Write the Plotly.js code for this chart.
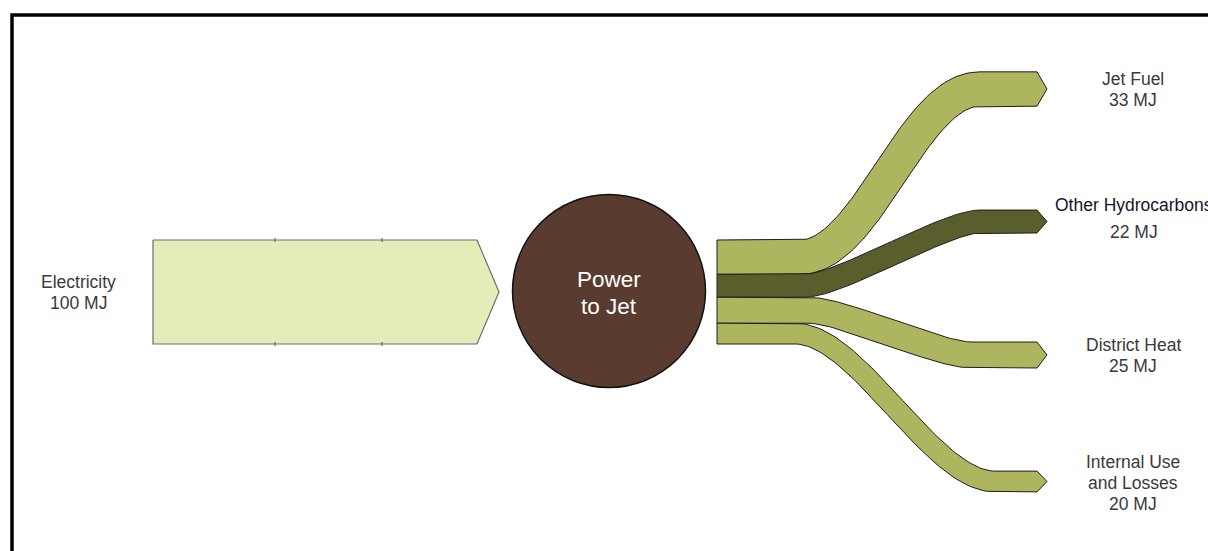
<!DOCTYPE html>
<html>
<head>
<meta charset="utf-8">
<script src="https://cdn.plot.ly/plotly-3.0.1.min.js"></script>
<style>
  html, body { margin: 0; padding: 0; background: #fff; }
  #sankey { width: 1208px; height: 551px; }
</style>
</head>
<body>
<div id="sankey"></div>
<script>
// ------------------------------------------------------------------------------
// DATA

const source_name  = 'Electricity';
const source_value = 100;
const process_name = ['Power', 'to Jet'];
const out_names    = [['Jet Fuel'], ['Other Hydrocarbons'], ['District Heat'], ['Internal Use', 'and Losses']];
const out_values   = [33, 22, 25, 20];
const unit         = 'MJ';

// ------------------------------------------------------------------------------
// LAYOUT PARAMETERS (pixels, the axes are set 1:1 to the page)

const W = 1208;
const H = 551;
const px_per_mj   = 1.04;
const mid_y       = 292;
const font_family = 'Liberation Sans, Arial, Helvetica, sans-serif';

const in_x0 = 153, in_x1 = 477, in_tip = 22;
const circ_cx = 609, circ_cy = 291, circ_r = 96.5;
const out_x0 = 717, out_x1 = 1037, out_tip = 10;
// each band bends between its own x0 and x1 (hand drawn look)
const bend_x0     = [800, 805, 808, 795];
const bend_x1     = [980, 980, 972, 995];
const bend_ctrl   = [0.38, 0.2, 0.22, 0.32];
const dest_cy     = [89, 221.5, 355, 481.5];
const label_x     = [1133, 1134, 1133, 1133];
const label_y     = [79, 205, 345, 462];
const label_gap   = [21, 27, 21, 21];

const col_in      = '#E3EDBA';
const col_out     = ['#AEB55F', '#5A5E2D', '#AEB55F', '#AEB55F'];
const col_circle  = '#5A3B30';
const col_text    = '#3a3a3a';

// ------------------------------------------------------------------------------
// UTILITIES

function bandEdges(xa, ya, xb, yb, half, k) {
    // cubic centreline, horizontal at both ends; edges offset perpendicular by +-half
    const c = k * (xb - xa);
    const P = [[xa, ya], [xa + c, ya], [xb - c, yb], [xb, yb]];
    const top = [[], []], bot = [[], []];
    const n = 60;
    for (let i = 0; i <= n; i++) {
        const t = i / n, u = 1 - t;
        const b = [u*u*u, 3*u*u*t, 3*u*t*t, t*t*t];
        const d = [-3*u*u, 3*u*u - 6*u*t, 6*u*t - 3*t*t, 3*t*t];
        let x = 0, y = 0, dx = 0, dy = 0;
        for (let j = 0; j < 4; j++) {
            x += b[j] * P[j][0]; y += b[j] * P[j][1];
            dx += d[j] * P[j][0]; dy += d[j] * P[j][1];
        }
        const len = Math.hypot(dx, dy) || 1;
        const nx = dy / len, ny = -dx / len;   // points "up" on screen
        top[0].push(x + half * nx); top[1].push(y + half * ny);
        bot[0].push(x - half * nx); bot[1].push(y - half * ny);
    }
    return [top, bot];
}

// ------------------------------------------------------------------------------
// BUILD

const traces = [];
const in_h   = source_value * px_per_mj;
const in_top = mid_y - in_h / 2;

// input arrow
traces.push({
    x: [in_x0, in_x1, in_x1 + in_tip, in_x1, in_x0, in_x0],
    y: [in_top, in_top, mid_y, in_top + in_h, in_top + in_h, in_top],
    mode: 'lines', fill: 'toself', fillcolor: col_in,
    line: {color: '#6e6e6e', width: 1.2}, hoverinfo: 'skip', showlegend: false
});
// faint segment ticks on the input arrow
traces.push({
    x: [275, 382, 275, 382],
    y: [in_top, in_top, in_top + in_h, in_top + in_h],
    mode: 'markers', marker: {symbol: 'line-ns', size: 3, line: {color: '#555', width: 1}},
    hoverinfo: 'skip', showlegend: false
});

// output bands
let ys = in_top;
out_values.forEach((v, i) => {
    const h  = v * px_per_mj;
    const yd = dest_cy[i] - h / 2;
    const [top, bot] = bandEdges(bend_x0[i], ys + h / 2, bend_x1[i], dest_cy[i], h / 2, bend_ctrl[i]);
    const xs = [out_x0].concat(top[0], [out_x1, out_x1 + out_tip, out_x1], bot[0].slice().reverse(), [out_x0, out_x0]);
    const yy = [ys].concat(top[1], [yd, dest_cy[i], yd + h], bot[1].slice().reverse(), [ys + h, ys]);
    traces.push({
        x: xs, y: yy, mode: 'lines', fill: 'toself', fillcolor: col_out[i],
        line: {color: '#1e1e1e', width: 1}, hoverinfo: 'skip', showlegend: false
    });
    ys += h;
});

const annotations = [];
function addText(txt, x, y, size, color) {
    annotations.push({
        text: txt, x: x, y: y, xref: 'x', yref: 'y', showarrow: false,
        xanchor: 'center', yanchor: 'middle',
        font: {family: font_family, size: size, color: color}
    });
}

addText(source_name, 78, 282, 17.5, col_text);
addText(source_value + ' ' + unit, 78, 303, 17.5, col_text);
addText(process_name[0], circ_cx, 279, 22.5, '#ffffff');
addText(process_name[1], circ_cx, 306, 22.5, '#ffffff');

out_names.forEach((lines, i) => {
    const all = lines.concat([out_values[i] + ' ' + unit]);
    all.forEach((t, k) => {
        const c = (i === 1 && k === 0) ? '#15152a' : col_text;
        addText(t, label_x[i], label_y[i] + k * label_gap[i], 17.5, c);
    });
});

const layout = {
    width: W, height: H,
    margin: {l: 0, r: 0, t: 0, b: 0},
    paper_bgcolor: '#ffffff', plot_bgcolor: '#ffffff',
    xaxis: {range: [0, W], visible: false, fixedrange: true},
    yaxis: {range: [H, 0], visible: false, fixedrange: true},
    showlegend: false,
    shapes: [
        {   // outer frame
            type: 'rect', xref: 'x', yref: 'y', x0: 12, y0: 15, x1: W + 40, y1: H + 40,
            line: {color: '#000', width: 3.5}, fillcolor: 'rgba(0,0,0,0)', layer: 'below'
        },
        {   // process node
            type: 'circle', xref: 'x', yref: 'y',
            x0: circ_cx - circ_r, x1: circ_cx + circ_r, y0: circ_cy - circ_r, y1: circ_cy + circ_r,
            fillcolor: col_circle, line: {color: '#111', width: 1.5}
        }
    ],
    annotations: annotations
};

Plotly.newPlot('sankey', traces, layout, {displayModeBar: false, staticPlot: true});
</script>
</body>
</html>
